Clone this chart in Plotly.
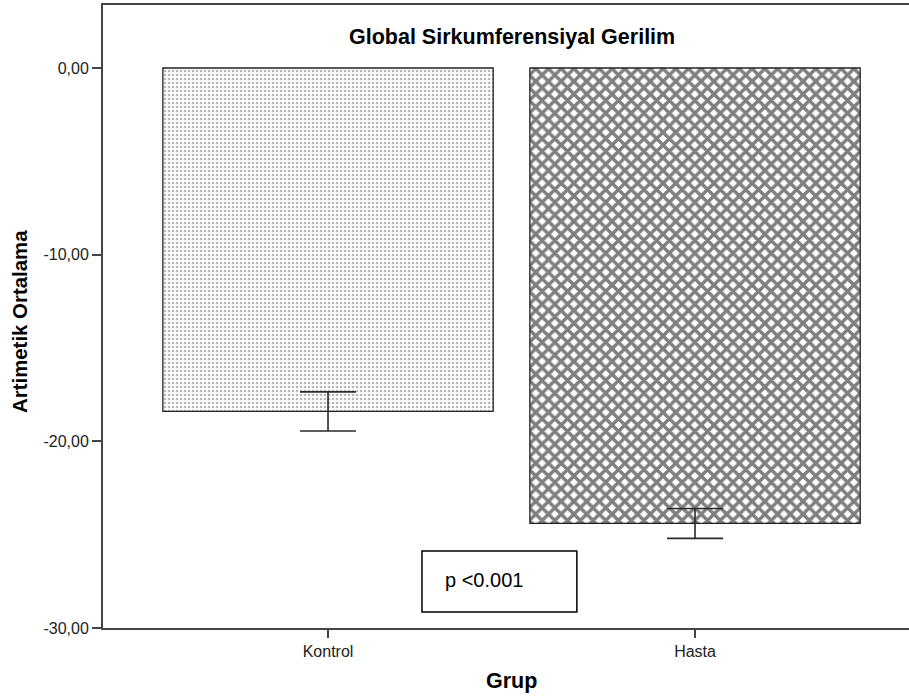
import plotly.graph_objects as go

categories = ["Kontrol", "Hasta"]
means = [-18.4, -24.4]
errors = [1.05, 0.8]
y_ticks = [0, -10, -20, -30]
y_tick_labels = ["0,00", "-10,00", "-20,00", "-30,00"]
title_text = "Global Sirkumferensiyal Gerilim"
x_title = "Grup"
y_title = "Artimetik Ortalama"
p_text = "p <0.001"

fig = go.Figure()
patterns = [
    dict(shape=".", fgcolor="#707070", bgcolor="white", size=4, solidity=0.35),
    dict(shape="x", fgcolor="#000000", bgcolor="white", size=9, solidity=0.62),
]
for i, (c, m, e) in enumerate(zip(categories, means, errors)):
    fig.add_trace(go.Bar(
        x=[i], y=[m], width=0.9,
        marker=dict(color="white", pattern=patterns[i],
                    line=dict(color="#222222", width=1.3)),
        error_y=dict(type="data", array=[e], symmetric=True,
                     color="#2a2a2a", thickness=1.6, width=28),
        showlegend=False, hoverinfo="skip",
    ))

fig.add_shape(type="rect", xref="x", yref="y", x0=0.256, x1=0.678, y0=-29.14, y1=-25.87,
              line=dict(color="black", width=1.5), fillcolor="white", layer="above")
fig.add_annotation(xref="x", yref="y", x=0.313, y=-27.45, text=p_text, showarrow=False,
                   xanchor="left", yanchor="middle",
                   font=dict(family="Liberation Sans", size=20, color="black"))

fig.add_annotation(xref="paper", yref="paper", x=0.5074, y=0.9486, text="<b>" + title_text + "</b>",
                   showarrow=False, xanchor="center", yanchor="middle",
                   font=dict(family="Liberation Sans", size=21.5, color="black"))
fig.add_annotation(xref="paper", yref="paper", x=0.5074, y=-0.085, text="<b>" + x_title + "</b>",
                   showarrow=False, xanchor="center", yanchor="middle",
                   font=dict(family="Liberation Sans", size=21.5, color="black"))
fig.add_annotation(xref="paper", yref="paper", x=-0.103, y=0.4928, text="<b>" + y_title + "</b>",
                   showarrow=False, xanchor="center", yanchor="middle", textangle=-90,
                   font=dict(family="Liberation Sans", size=20.4, color="black"))

fig.update_layout(
    width=909, height=698,
    margin=dict(l=103, r=0, t=5, b=70),
    paper_bgcolor="white", plot_bgcolor="white",
    font=dict(family="Liberation Sans", color="#222222"),
    xaxis=dict(
        range=[-0.6131, 1.583], tickvals=[0, 1], ticktext=categories,
        showline=True, linecolor="#444444", linewidth=2, mirror=True,
        ticks="outside", ticklen=8, tickcolor="#444444", tickwidth=1.5,
        showgrid=False, zeroline=False, tickfont=dict(size=16, color="#222222"),
    ),
    yaxis=dict(
        range=[-30, 3.375], tickvals=y_ticks, ticktext=y_tick_labels,
        showline=True, linecolor="#444444", linewidth=2,
        ticks="outside", ticklen=9, tickcolor="#444444", tickwidth=1.5,
        showgrid=False, zeroline=False, tickfont=dict(size=16, color="#222222"),
    ),
)

fig.write_html("out.html")
